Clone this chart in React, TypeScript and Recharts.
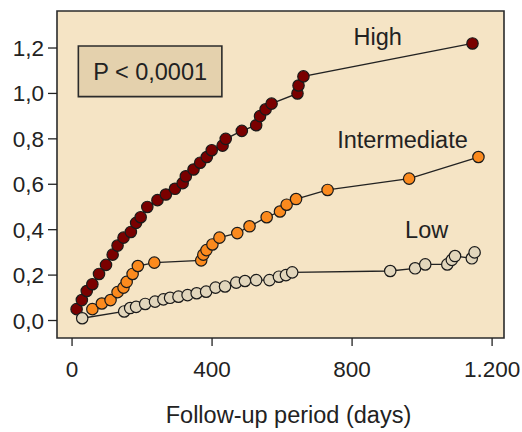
import React from 'react';
import {
  ScatterChart,
  Scatter,
  XAxis,
  YAxis,
  ReferenceArea,
  ReferenceDot,
} from 'recharts';

// ---------------------------------------------------------------------------
// Data (follow-up days vs cumulative event rate)
// ---------------------------------------------------------------------------

const highDays = [13, 28, 42, 58, 77, 97, 116, 130, 147, 168, 183, 196, 215, 244, 268, 294, 316, 325, 347, 366, 385, 399, 430, 439, 485, 526, 537, 553, 570, 644, 647, 661, 1144];
const highRate = [0.05, 0.09, 0.13, 0.16, 0.205, 0.245, 0.29, 0.33, 0.365, 0.39, 0.43, 0.455, 0.5, 0.53, 0.555, 0.58, 0.605, 0.635, 0.665, 0.695, 0.72, 0.75, 0.77, 0.8, 0.835, 0.86, 0.9, 0.93, 0.955, 1.0, 1.035, 1.075, 1.22];

const interDays = [58, 85, 110, 130, 147, 156, 173, 188, 235, 369, 375, 384, 401, 421, 472, 507, 556, 594, 613, 640, 730, 963, 1161];
const interRate = [0.05, 0.075, 0.09, 0.125, 0.145, 0.17, 0.205, 0.24, 0.255, 0.265, 0.29, 0.31, 0.335, 0.365, 0.385, 0.415, 0.455, 0.48, 0.51, 0.535, 0.575, 0.625, 0.72];

const lowDays = [29, 149, 166, 183, 209, 237, 261, 280, 304, 330, 356, 383, 410, 437, 469, 494, 526, 564, 591, 611, 629, 909, 980, 1009, 1072, 1085, 1094, 1142, 1150];
const lowRate = [0.01, 0.04, 0.055, 0.06, 0.073, 0.083, 0.093, 0.1, 0.105, 0.112, 0.12, 0.127, 0.145, 0.15, 0.167, 0.174, 0.178, 0.178, 0.193, 0.2, 0.212, 0.218, 0.23, 0.247, 0.247, 0.267, 0.284, 0.274, 0.3];

const xTicks = [0, 400, 800, 1200];
const yTicks = [0, 0.2, 0.4, 0.6, 0.8, 1.0, 1.2];

const xDomain: [number, number] = [-43, 1234];
const yDomain: [number, number] = [-0.077, 1.363];

const toPoints = (xs: number[], ys: number[]) => xs.map((x, i) => ({ x, y: ys[i] }));

const highData = toPoints(highDays, highRate);
const interData = toPoints(interDays, interRate);
const lowData = toPoints(lowDays, lowRate);

const TICK_FONT = 22.5;
const LABEL_FONT = 23.5;
const INK = '#222';

const dot = (fill: string) => (props: any) => (
  <circle cx={props.cx} cy={props.cy} r={5.7} fill={fill} stroke="#1a1a1a" strokeWidth={1.2} />
);

export default function App() {
  return (
    <div
      style={{
        position: 'absolute',
        left: 0,
        top: 0,
        fontFamily: 'Arial, "Liberation Sans", sans-serif',
      }}
    >
      <ScatterChart width={522} height={432} margin={{ top: 11, right: 18, left: 0, bottom: 0 }}>
        <XAxis
          type="number"
          dataKey="x"
          domain={xDomain}
          ticks={xTicks}
          axisLine={false}
          tickLine={{ stroke: INK, strokeWidth: 1.3 }}
          tickSize={8}
          tickMargin={15}
          height={94}
          tick={{ fill: INK, fontSize: TICK_FONT }}
          tickFormatter={(v) => (v === 1200 ? '1.200' : String(v))}
          label={{ value: 'Follow-up period (days)', position: 'insideBottom', offset: 9, dx: 8, fill: INK, fontSize: LABEL_FONT }}
        />
        <YAxis
          type="number"
          dataKey="y"
          domain={yDomain}
          ticks={yTicks}
          axisLine={false}
          tickLine={{ stroke: INK, strokeWidth: 1.3 }}
          tickSize={9}
          tickMargin={4}
          width={57}
          tick={{ fill: INK, fontSize: TICK_FONT }}
          tickFormatter={(v) => v.toFixed(1).replace('.', ',')}
        />
        <ReferenceArea
          x1={xDomain[0]}
          x2={xDomain[1]}
          y1={yDomain[0]}
          y2={yDomain[1]}
          fill="#f5e4c5"
          fillOpacity={1}
          stroke="#2b2b2b"
          strokeWidth={1.6}
        />
        <ReferenceArea
          x1={18}
          x2={428}
          y1={0.986}
          y2={1.209}
          fill="#e4d1ad"
          fillOpacity={1}
          stroke="#2b2b2b"
          strokeWidth={1.6}
          label={{ value: 'P < 0,0001', position: 'center', fill: INK, fontSize: LABEL_FONT }}
        />
        <Scatter
          data={highData}
          line={{ stroke: INK, strokeWidth: 1.3 }}
          shape={dot('#7a0000')}
          isAnimationActive={false}
        />
        <Scatter
          data={lowData}
          line={{ stroke: INK, strokeWidth: 1.3 }}
          shape={dot('#e2d6bc')}
          isAnimationActive={false}
        />
        <Scatter
          data={interData}
          line={{ stroke: INK, strokeWidth: 1.3 }}
          shape={dot('#fb8a1e')}
          isAnimationActive={false}
        />
        <ReferenceDot x={873} y={1.25} r={0} fill="none" stroke="none"
          label={{ value: 'High', position: 'center', fill: INK, fontSize: LABEL_FONT }} />
        <ReferenceDot x={944} y={0.795} r={0} fill="none" stroke="none"
          label={{ value: 'Intermediate', position: 'center', fill: INK, fontSize: LABEL_FONT }} />
        <ReferenceDot x={1013} y={0.399} r={0} fill="none" stroke="none"
          label={{ value: 'Low', position: 'center', fill: INK, fontSize: LABEL_FONT }} />
      </ScatterChart>
    </div>
  );
}
